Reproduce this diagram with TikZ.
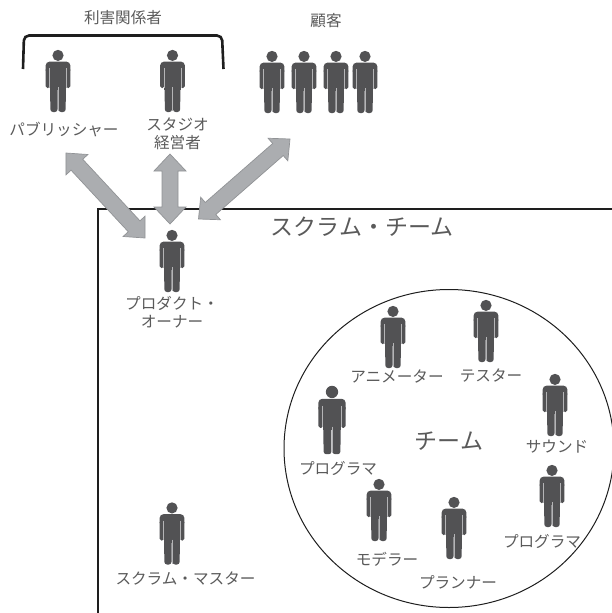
\documentclass[tikz,border=0pt]{standalone}
\usepackage{fontspec}
\usetikzlibrary{calc}
\newfontfamily\jp{Noto Sans CJK JP}
\definecolor{figcol}{HTML}{525254}
\definecolor{gapcol}{HTML}{B4B4B6}
\definecolor{arrfill}{HTML}{ABADB0}
\definecolor{arredge}{HTML}{919396}
\definecolor{txtcol}{HTML}{5A5A5A}
\definecolor{linecol}{HTML}{1E1E1E}
\tikzset{
  lbl/.style={font=\jp\fontsize{15.6}{18}\selectfont, text=txtcol, inner sep=0pt, align=center},
  biglbl/.style={font=\jp\fontsize{23}{26}\selectfont, text=txtcol, inner sep=0pt},
  person/.pic={
    \fill[figcol] (0,5.4) circle (5.6);
    \fill[figcol,rounded corners=4pt] (-12.4,24) -- (-12.4,11.6) -- (12.4,11.6) -- (12.4,24) -- cycle;
    \fill[figcol,rounded corners=1.8pt] (-12.4,18) -- (-12.4,38) -- (-8,38) -- (-8,18) -- cycle;
    \fill[figcol,rounded corners=1.8pt] (12.4,18) -- (12.4,38) -- (8,38) -- (8,18) -- cycle;
    \fill[figcol] (-8.2,18) rectangle (8.2,40);
    \fill[figcol,rounded corners=2.6pt] (-8,34) -- (-7.6,62) -- (-0.5,62) -- (-0.5,34) -- cycle;
    \fill[figcol,rounded corners=2.6pt] (8,34) -- (7.6,62) -- (0.5,62) -- (0.5,34) -- cycle;
    \draw[gapcol,line width=.7pt] (0,37) -- (0,61);
    \draw[gapcol,line width=.7pt] (-8.4,18) -- (-8.4,37.5);
    \draw[gapcol,line width=.7pt] (8.4,18) -- (8.4,37.5);
  }
}
\newcommand{\blockarrow}[5]{% a, b, head length, half head, half shaft
  \filldraw[fill=arrfill,draw=arredge,line width=.7pt,line join=miter]
    (#1)
    -- ($(#1)!#3!(#2)!#4!90:(#2)$)
    -- ($(#1)!#3!(#2)!#5!90:(#2)$)
    -- ($(#2)!#3!(#1)!#5!-90:(#1)$)
    -- ($(#2)!#3!(#1)!#4!-90:(#1)$)
    -- (#2)
    -- ($(#2)!#3!(#1)!#4!90:(#1)$)
    -- ($(#2)!#3!(#1)!#5!90:(#1)$)
    -- ($(#1)!#3!(#2)!#5!-90:(#2)$)
    -- ($(#1)!#3!(#2)!#4!-90:(#2)$)
    -- cycle;
}
\begin{document}
\begin{tikzpicture}[x=1pt,y=-1pt]
\useasboundingbox (0,0) rectangle (612,613);
\clip (0,0) rectangle (612,613);
% scrum team frame
\draw[linecol,line width=1.7pt] (98,613) -- (98,209) -- (612,209);
% team circle
\draw[linecol,line width=1pt] (449,448.5) ellipse [x radius=165, y radius=159];
% bracket
\draw[linecol,line width=2.6pt,rounded corners=5pt,line cap=butt] (23,69) -- (24,35.5) -- (222,35.5) -- (223.5,69);
% people
\pic (publisher) at (58,50) {person};
\pic (studio) at (172.5,50) {person};
\pic (cust1) at (272,51) {person};
\pic (cust2) at (304,51) {person};
\pic (cust3) at (336,51) {person};
\pic (cust4) at (365,51) {person};
\pic (owner) at (172,230) {person};
\pic (master) at (172,502.5) {person};
\pic (animator) at (393,306) {person};
\pic (tester) at (486,300) {person};
\pic (sound) at (555,374) {person};
\pic[scale=1.1] (prog1) at (332,386) {person};
\pic (modeler) at (379,479) {person};
\pic (planner) at (454,497) {person};
\pic (prog2) at (552,465) {person};
% arrows
\coordinate (a1) at (66,153); \coordinate (b1) at (145,238);
\coordinate (a2) at (170,154); \coordinate (b2) at (170,224);
\coordinate (a3) at (290,139); \coordinate (b3) at (198.5,219);
\blockarrow{a1}{b1}{16pt}{15pt}{8pt}
\blockarrow{a2}{b2}{17pt}{16pt}{8pt}
\blockarrow{a3}{b3}{16pt}{15pt}{8pt}
% labels
\node[lbl] (tStake) at (123,18) {利害関係者};
\node[lbl] (tCust) at (326,21) {顧客};
\node[lbl] (tPub) at (64,130) {パブリッシャー};
\node[lbl] (tStudio) at (177.5,134) {スタジオ\\経営者};
\node[biglbl] (tScrum) at (362,227) {スクラム・チーム};
\node[lbl] (tOwner) at (172,312) {プロダクト・\\オーナー};
\node[lbl] (tMaster) at (185.5,578) {スクラム・マスター};
\node[lbl] (tAnim) at (397,376) {アニメーター};
\node[lbl] (tTest) at (491,376) {テスター};
\node[lbl] (tSound) at (557,447) {サウンド};
\node[biglbl] (tTeam) at (449,441) {チーム};
\node[lbl] (tProg1) at (338,468) {プログラマ};
\node[lbl] (tProg2) at (542,541) {プログラマ};
\node[lbl] (tModel) at (387,559) {モデラー};
\node[lbl] (tPlan) at (458,582) {プランナー};
\end{tikzpicture}
\end{document}
